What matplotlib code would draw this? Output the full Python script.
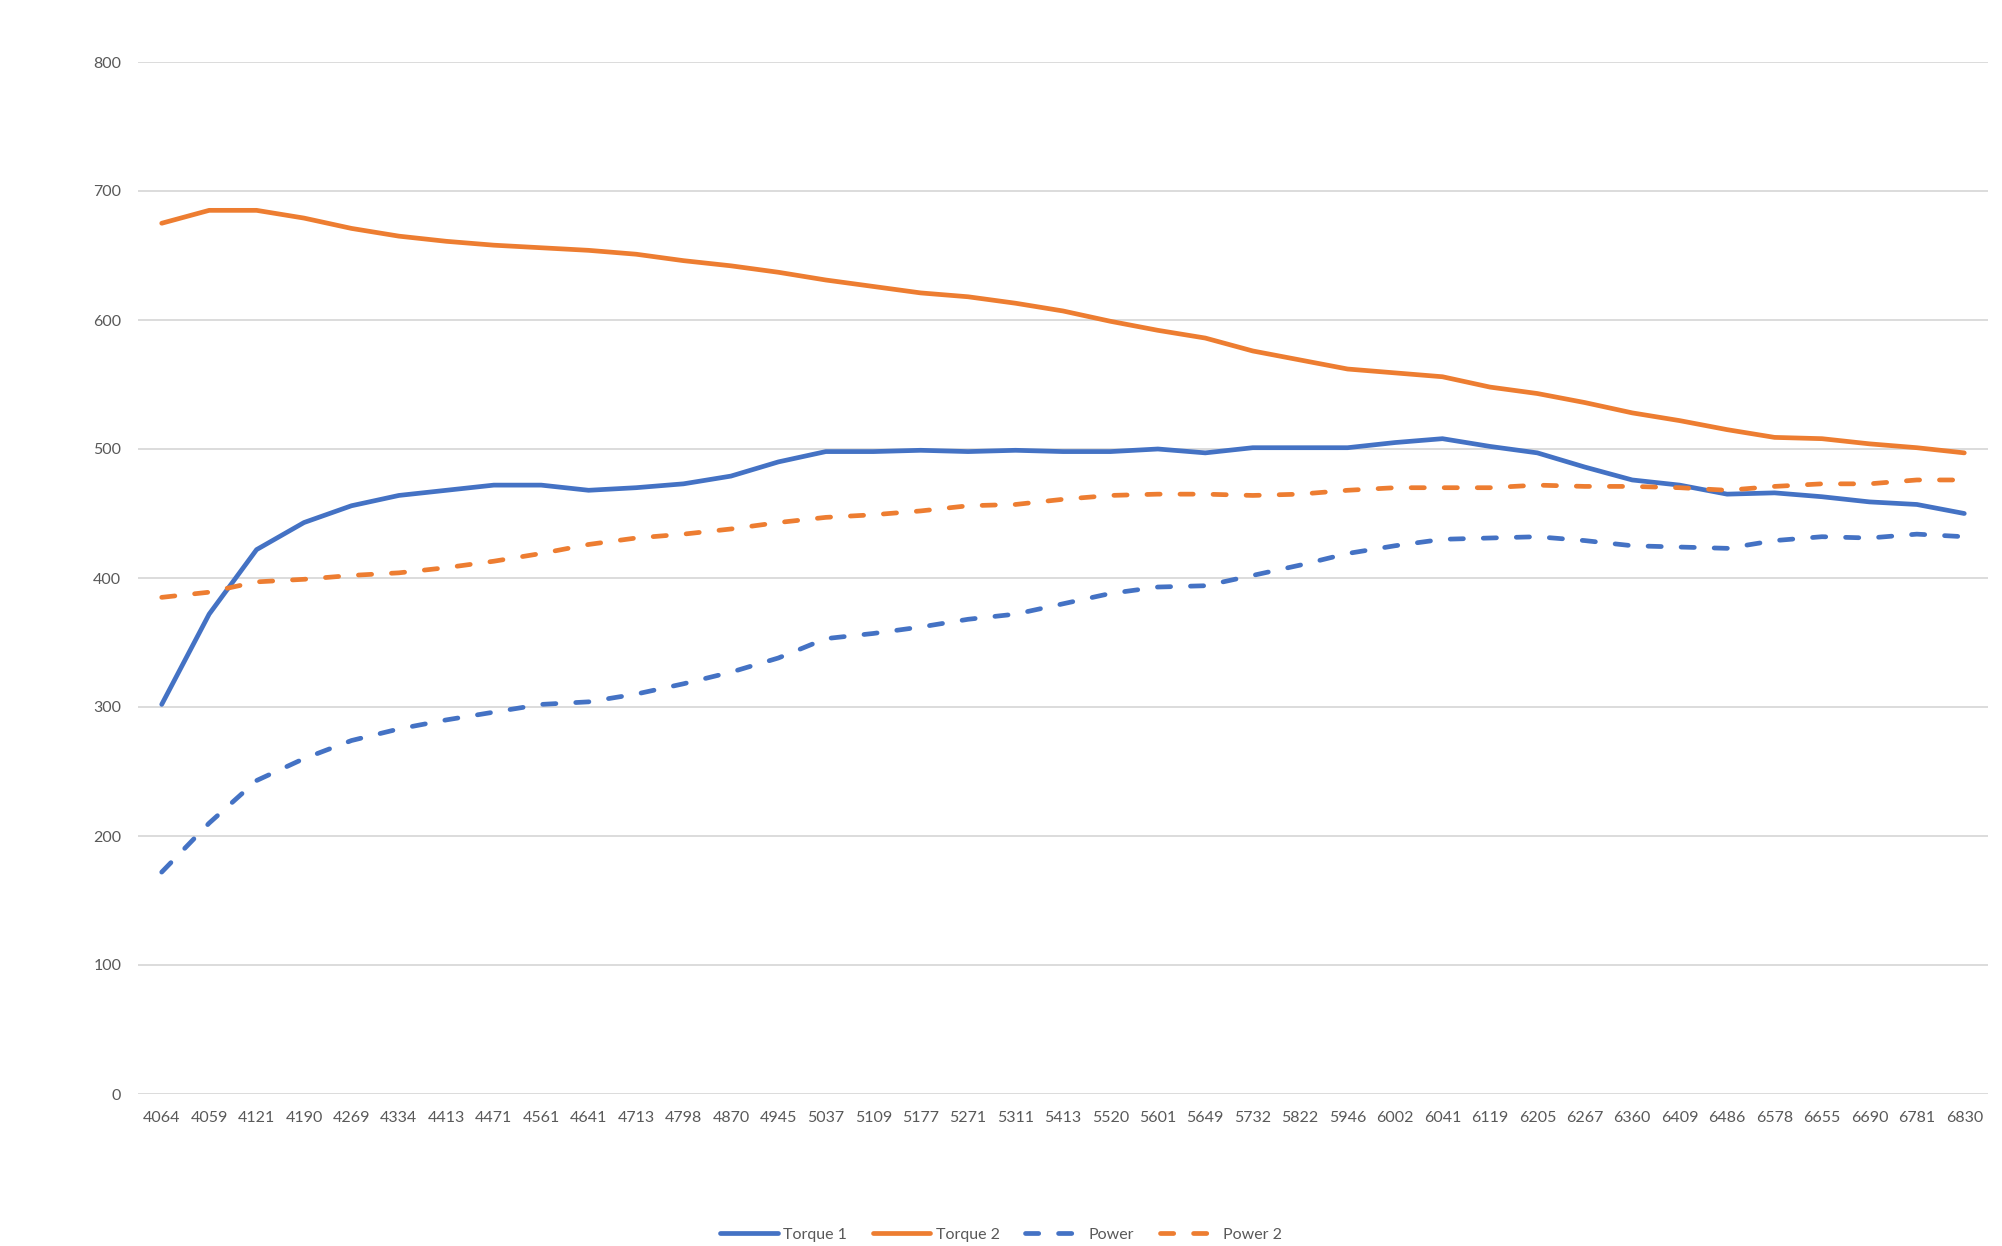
import matplotlib
matplotlib.use("Agg")
import matplotlib.pyplot as plt

rpm_labels = ["4064", "4059", "4121", "4190", "4269", "4334", "4413", "4471", "4561", "4641",
              "4713", "4798", "4870", "4945", "5037", "5109", "5177", "5271", "5311", "5413",
              "5520", "5601", "5649", "5732", "5822", "5946", "6002", "6041", "6119", "6205",
              "6267", "6360", "6409", "6486", "6578", "6655", "6690", "6781", "6830"]

torque1 = [302, 372, 422, 443, 456, 464, 468, 472, 472, 468,
           470, 473, 479, 490, 498, 498, 499, 498, 499, 498,
           498, 500, 497, 501, 501, 501, 505, 508, 502, 497,
           486, 476, 472, 465, 466, 463, 459, 457, 450]

torque2 = [675, 685, 685, 679, 671, 665, 661, 658, 656, 654,
           651, 646, 642, 637, 631, 626, 621, 618, 613, 607,
           599, 592, 586, 576, 569, 562, 559, 556, 548, 543,
           536, 528, 522, 515, 509, 508, 504, 501, 497]

power = [172, 210, 243, 260, 274, 283, 290, 296, 302, 304,
         310, 318, 327, 338, 353, 357, 362, 368, 372, 380,
         388, 393, 394, 402, 410, 419, 425, 430, 431, 432,
         429, 425, 424, 423, 429, 432, 431, 434, 432]

power2 = [385, 389, 397, 399, 402, 404, 408, 413, 419, 426,
          431, 434, 438, 443, 447, 449, 452, 456, 457, 461,
          464, 465, 465, 464, 465, 468, 470, 470, 470, 472,
          471, 471, 470, 468, 471, 473, 473, 476, 476]

y_ticks = [0, 100, 200, 300, 400, 500, 600, 700, 800]

BLUE = "#4472C4"
ORANGE = "#ED7D31"

plt.rcParams['font.family'] = ['Lato', 'DejaVu Sans']

fig = plt.figure(figsize=(20.02, 12.46), dpi=100)
ax = fig.add_axes([138/2002, 152/1246, (1988-138)/2002, (1094-62)/1246])

x = list(range(len(rpm_labels)))
lw = 3.4
dash = (2.8, 4.2)
ax.plot(x, torque1, color=BLUE, lw=lw, solid_capstyle='round', solid_joinstyle='round', label="Torque 1")
ax.plot(x, torque2, color=ORANGE, lw=lw, solid_capstyle='round', solid_joinstyle='round', label="Torque 2")
ax.plot(x, power, color=BLUE, lw=lw, dashes=dash, dash_capstyle='round', dash_joinstyle='round', label="Power")
ax.plot(x, power2, color=ORANGE, lw=lw, dashes=dash, dash_capstyle='round', dash_joinstyle='round', label="Power 2")

ax.set_xlim(-0.5, len(rpm_labels) - 0.5)
ax.set_ylim(0, 800)
ax.set_yticks(y_ticks)
ax.set_xticks(x)
ax.set_xticklabels(rpm_labels)
ax.yaxis.grid(True, color="#D9D9D9", lw=1.3)
ax.set_axisbelow(True)
for s in ax.spines.values():
    s.set_visible(False)
ax.tick_params(axis='both', length=0, labelsize=11.5, labelcolor="#595959")
ax.tick_params(axis='y', pad=12)
ax.tick_params(axis='x', pad=12)

fig.legend(loc='center', bbox_to_anchor=(0.5, 0.009), ncol=4, frameon=False,
           fontsize=11.5, handlelength=3.6, handletextpad=0.35, columnspacing=1.6,
           labelcolor="#595959")

fig.savefig("out.png", dpi=100, facecolor="white")
